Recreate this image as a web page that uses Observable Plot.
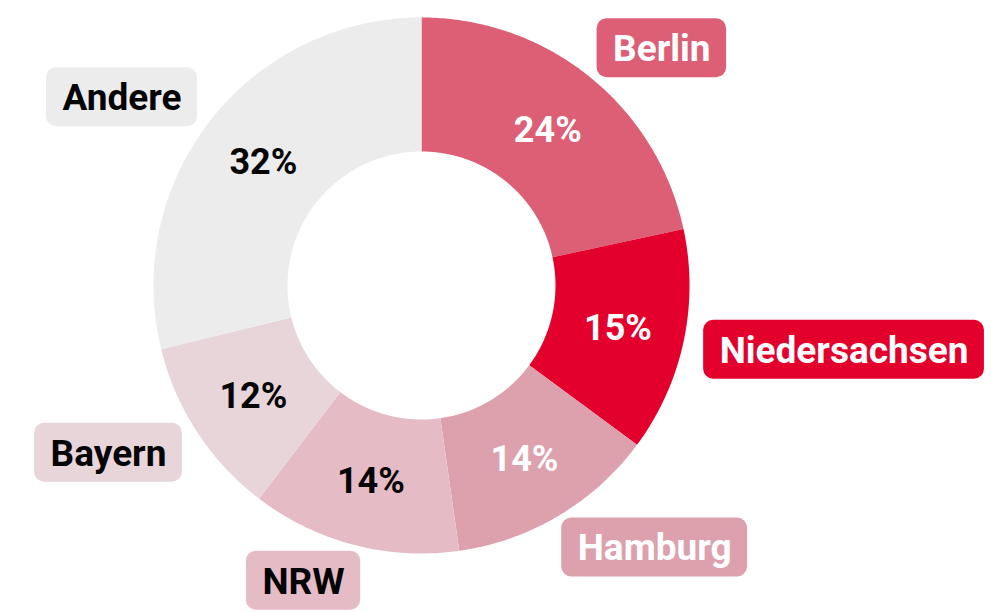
<!DOCTYPE html>
<html>
<head>
<meta charset="utf-8">
<script src="https://cdn.jsdelivr.net/npm/d3@7"></script>
<script src="https://cdn.jsdelivr.net/npm/@observablehq/plot@0.6"></script>
<style>
  html, body { margin: 0; padding: 0; background: #ffffff; }
  #chart svg { display: block; }
</style>
</head>
<body>
<div id="chart"></div>
<script>
// ---- data ----
const names = ["Berlin", "Niedersachsen", "Hamburg", "NRW", "Bayern", "Andere"];
const values = [24, 15, 14, 14, 12, 32];
const sliceColors = ["#dc5f76", "#e3002d", "#dca1ad", "#e5bcc5", "#e8d5da", "#ececec"];
const textColors = ["#ffffff", "#ffffff", "#ffffff", "#050505", "#050505", "#050505"];

// ---- layout ----
const W = 1007, H = 612;
const CX = 421, CY = 285;          // pixel centre of the donut
const R_OUT = 268, R_IN = 134;
const R_PCT = (R_OUT + R_IN) / 2;
const R_LABEL = 305;
const FONT = "Roboto, 'Noto Sans', sans-serif";
const FS = 37, FS_PCT = 36;
const PAD_X = 16, BOX_H = 59;

const total = d3.sum(values);
let acc = 0;
const slices = names.map((name, i) => {
  const a0 = acc / total * 2 * Math.PI;
  acc += values[i];
  const a1 = acc / total * 2 * Math.PI;
  return {name, value: values[i], a0, a1, mid: (a0 + a1) / 2, color: sliceColors[i], textColor: textColors[i]};
});

// polygon outline for each slice (angle measured clockwise from 12 o'clock, y up)
const pt = (r, a) => ({x: r * Math.sin(a), y: r * Math.cos(a)});
const poly = [];
for (const s of slices) {
  const n = Math.max(8, Math.ceil((s.a1 - s.a0) / 0.01));
  for (let k = 0; k <= n; k++) poly.push({...pt(R_OUT, s.a0 + (s.a1 - s.a0) * k / n), name: s.name, color: s.color});
  for (let k = n; k >= 0; k--) poly.push({...pt(R_IN, s.a0 + (s.a1 - s.a0) * k / n), name: s.name, color: s.color});
  poly.push({...pt(R_OUT, s.a0), name: s.name, color: s.color});
}

// text measurement
const ctx = document.createElement("canvas").getContext("2d");
ctx.font = `700 ${FS}px ${FONT}`;

const labels = slices.map(s => {
  const p = pt(R_LABEL, s.mid);
  const tw = ctx.measureText(s.name).width;
  const w = tw + 2 * PAD_X;
  const right = Math.sin(s.mid) >= 0;
  const x1 = right ? p.x - PAD_X : p.x + PAD_X - w;
  return {...s, x1, x2: x1 + w, cx: x1 + w / 2, y1: p.y - BOX_H / 2, y2: p.y + BOX_H / 2, cy: p.y};
});

const pcts = slices.map(s => ({...s, ...pt(R_PCT, s.mid), label: s.value + "%"}));

const chart = Plot.plot({
  width: W,
  height: H,
  margin: 0,
  x: {domain: [-CX, W - CX], axis: null},
  y: {domain: [CY - H, CY], axis: null},
  color: {type: "identity"},
  style: {fontFamily: FONT, background: "#ffffff"},
  marks: [
    Plot.line(poly, {x: "x", y: "y", z: "name", fill: "color", stroke: "none", curve: "linear"}),
    Plot.text(pcts, {x: "x", y: "y", text: "label", fill: "textColor", fontSize: FS_PCT, fontWeight: 700, textAnchor: "middle", lineAnchor: "middle", dy: 1}),
    Plot.rect(labels, {x1: "x1", x2: "x2", y1: "y1", y2: "y2", fill: "color", rx: 10}),
    Plot.text(labels, {x: "cx", y: "cy", text: "name", fill: "textColor", fontSize: FS, fontWeight: 700, textAnchor: "middle", lineAnchor: "middle", dy: 1})
  ]
});
document.getElementById("chart").appendChild(chart);
</script>
</body>
</html>
